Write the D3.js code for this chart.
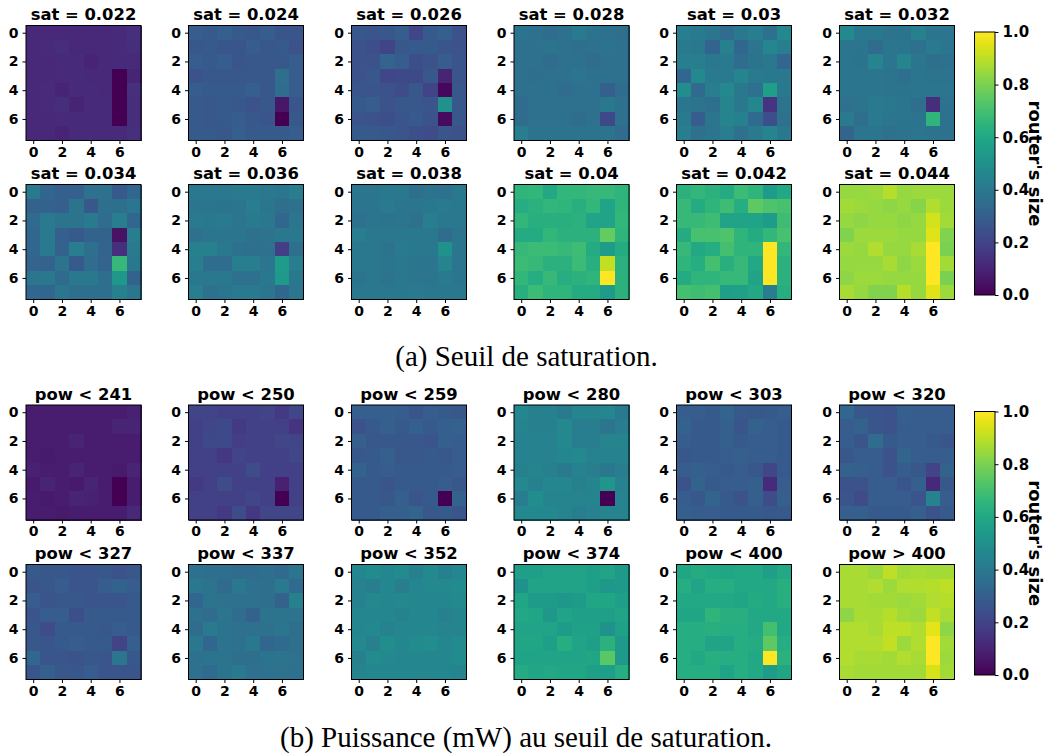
<!DOCTYPE html>
<html><head><meta charset="utf-8">
<script src="https://cdn.jsdelivr.net/npm/d3@7/dist/d3.min.js"></script>
<style>
html,body{margin:0;padding:0;background:#fff}
svg{display:block}
.tick text,.ptitle,.cblabel{font-family:"DejaVu Sans";font-weight:700;fill:#000}
.caption{font-family:"Liberation Serif";fill:#000}
</style></head><body>
<svg id="chart" width="1047" height="756"></svg>
<script>
const sat022=[[.11,.11,.11,.11,.11,.11,.12,.14],[.11,.12,.13,.11,.11,.11,.12,.13],[.11,.11,.12,.12,.10,.11,.12,.12],[.11,.11,.12,.12,.11,.11,0,.10],[.11,.12,.10,.12,.12,.11,0,.14],[.11,.12,.13,.10,.12,.12,0,.13],[.11,.11,.12,.12,.12,.12,0,.13],[.11,.11,.10,.12,.12,.12,.12,.14]];
const sat024=[[.29,.28,.30,.28,.27,.29,.26,.26],[.27,.28,.26,.26,.29,.27,.28,.25],[.29,.28,.29,.26,.27,.27,.27,.29],[.25,.27,.27,.27,.27,.27,.36,.29],[.29,.28,.28,.28,.30,.27,.35,.29],[.28,.27,.28,.27,.25,.27,.06,.26],[.28,.27,.28,.29,.27,.26,0,.27],[.28,.28,.27,.30,.28,.28,.28,.29]];
const sat026=[[.27,.26,.27,.29,.21,.28,.30,.25],[.25,.24,.20,.27,.28,.28,.26,.25],[.25,.25,.32,.29,.24,.25,.29,.26],[.25,.27,.21,.22,.22,.27,.10,.26],[.26,.26,.25,.23,.27,.20,.02,.27],[.28,.29,.25,.27,.27,.26,.50,.27],[.26,.25,.24,.26,.28,.25,.03,.27],[.28,.28,.27,.26,.24,.23,.26,.25]];
const sat028=[[.38,.37,.35,.37,.41,.38,.37,.36],[.37,.37,.38,.37,.36,.37,.38,.37],[.37,.37,.35,.37,.37,.35,.37,.37],[.37,.36,.37,.37,.39,.37,.37,.37],[.37,.37,.37,.35,.37,.37,.30,.35],[.35,.37,.37,.37,.37,.37,.40,.37],[.35,.37,.37,.37,.35,.37,.22,.37],[.42,.38,.38,.38,.38,.38,.38,.35]];
const sat030=[[.42,.41,.39,.35,.40,.42,.37,.47],[.41,.40,.32,.43,.33,.39,.46,.42],[.42,.42,.40,.41,.35,.38,.40,.33],[.33,.47,.41,.41,.45,.41,.40,.40],[.49,.34,.42,.47,.40,.37,.56,.40],[.39,.38,.36,.45,.40,.46,.15,.38],[.41,.29,.39,.45,.43,.34,.24,.37],[.42,.37,.39,.42,.37,.41,.45,.40]];
const sat032=[[.47,.40,.40,.38,.38,.43,.39,.39],[.39,.39,.35,.39,.39,.37,.41,.39],[.39,.38,.45,.39,.45,.39,.36,.37],[.39,.39,.39,.38,.36,.39,.38,.38],[.39,.39,.39,.38,.38,.39,.39,.39],[.37,.38,.41,.40,.39,.36,.13,.37],[.41,.36,.41,.39,.39,.38,.65,.37],[.32,.39,.39,.37,.38,.39,.38,.37]];
const sat034=[[.41,.33,.30,.30,.37,.37,.28,.33],[.31,.31,.30,.38,.27,.36,.36,.39],[.34,.41,.38,.38,.41,.35,.42,.33],[.33,.41,.30,.28,.31,.31,.05,.42],[.33,.41,.31,.42,.36,.32,.14,.41],[.32,.31,.38,.28,.35,.32,.67,.40],[.39,.40,.34,.40,.40,.36,.53,.31],[.33,.33,.39,.36,.36,.36,.43,.39]];
const sat036=[[.40,.40,.40,.41,.41,.40,.39,.42],[.39,.39,.38,.39,.42,.39,.36,.37],[.41,.40,.41,.39,.41,.40,.33,.39],[.37,.39,.39,.39,.37,.38,.40,.40],[.43,.43,.40,.37,.36,.37,.18,.36],[.42,.35,.35,.42,.42,.39,.55,.42],[.40,.40,.40,.37,.37,.40,.54,.40],[.42,.37,.39,.41,.41,.39,.33,.39]];
const sat038=[[.39,.39,.40,.40,.36,.38,.37,.40],[.39,.39,.41,.39,.39,.40,.41,.40],[.37,.39,.38,.39,.37,.42,.40,.40],[.42,.40,.40,.40,.40,.40,.35,.39],[.40,.40,.38,.41,.40,.40,.50,.39],[.40,.40,.39,.40,.39,.39,.45,.39],[.38,.40,.38,.40,.39,.39,.41,.39],[.40,.40,.40,.40,.41,.40,.40,.40]];
const sat040=[[.65,.66,.60,.66,.66,.67,.67,.65],[.62,.64,.66,.65,.63,.66,.58,.65],[.66,.63,.63,.63,.64,.58,.58,.66],[.61,.61,.66,.64,.64,.64,.76,.65],[.67,.68,.68,.67,.69,.61,.55,.61],[.68,.67,.64,.64,.68,.63,.91,.64],[.66,.62,.67,.62,.64,.65,1,.64],[.63,.68,.65,.65,.61,.61,.55,.64]];
const sat042=[[.64,.66,.64,.61,.68,.65,.55,.60],[.67,.61,.65,.69,.62,.75,.72,.71],[.67,.67,.69,.58,.58,.58,.55,.69],[.61,.71,.71,.72,.65,.61,.66,.71],[.67,.60,.62,.70,.65,.65,1,.66],[.65,.62,.70,.63,.67,.60,1,.64],[.61,.65,.65,.67,.67,.58,1,.64],[.70,.69,.70,.56,.57,.60,.42,.62]];
const sat044=[[.84,.84,.85,.89,.84,.85,.85,.85],[.86,.85,.84,.83,.84,.82,.88,.85],[.84,.83,.84,.84,.83,.84,.93,.86],[.81,.85,.85,.85,.84,.84,.95,.81],[.85,.84,.88,.84,.84,.87,1,.80],[.84,.84,.84,.87,.83,.85,1,.86],[.83,.85,.85,.84,.84,.84,1,.80],[.87,.84,.81,.81,.89,.84,.95,.85]];
const pow241=[[.08,.08,.08,.08,.08,.08,.08,.09],[.08,.08,.08,.08,.08,.08,.10,.10],[.08,.08,.08,.10,.08,.08,.08,.08],[.08,.07,.08,.08,.08,.08,.08,.08],[.09,.08,.08,.10,.08,.08,.07,.10],[.07,.10,.08,.07,.10,.08,0,.08],[.08,.07,.08,.10,.09,.08,0,.08],[.08,.08,.07,.08,.08,.08,.08,.11]];
const pow250=[[.20,.20,.19,.19,.19,.20,.17,.21],[.19,.21,.22,.17,.19,.19,.19,.15],[.19,.22,.22,.18,.19,.19,.21,.20],[.19,.19,.16,.20,.19,.19,.19,.21],[.19,.19,.19,.19,.23,.19,.19,.19],[.17,.19,.23,.19,.19,.19,.09,.19],[.19,.19,.19,.19,.21,.19,0,.19],[.19,.19,.17,.23,.16,.21,.21,.21]];
const pow259=[[.30,.30,.30,.29,.26,.29,.28,.27],[.25,.28,.30,.28,.30,.28,.30,.31],[.30,.27,.27,.27,.27,.26,.30,.29],[.27,.28,.30,.27,.27,.28,.27,.29],[.31,.28,.29,.28,.28,.28,.28,.29],[.28,.28,.26,.28,.28,.28,.29,.27],[.28,.28,.27,.30,.26,.28,0,.31],[.28,.28,.30,.30,.32,.27,.28,.26]];
const pow280=[[.46,.43,.43,.41,.45,.45,.46,.41],[.45,.43,.43,.47,.42,.42,.39,.42],[.44,.44,.44,.47,.42,.42,.45,.45],[.44,.44,.44,.46,.47,.44,.44,.44],[.43,.45,.43,.41,.44,.42,.40,.42],[.47,.43,.46,.46,.43,.45,.52,.44],[.42,.49,.45,.45,.45,.45,0,.45],[.47,.47,.47,.45,.42,.44,.45,.45]];
const pow303=[[.29,.29,.28,.32,.28,.27,.28,.29],[.31,.28,.28,.30,.26,.31,.29,.28],[.29,.28,.28,.30,.28,.29,.29,.28],[.27,.28,.28,.29,.30,.29,.29,.28],[.29,.30,.29,.28,.29,.27,.21,.28],[.25,.31,.28,.29,.29,.30,.12,.29],[.29,.27,.32,.28,.25,.30,.23,.30],[.30,.29,.29,.28,.28,.28,.27,.28]];
const pow320=[[.33,.27,.26,.25,.30,.29,.29,.29],[.29,.31,.26,.25,.29,.29,.29,.29],[.29,.26,.35,.28,.29,.29,.28,.26],[.27,.29,.29,.25,.32,.29,.29,.29],[.31,.30,.29,.25,.29,.27,.20,.31],[.25,.25,.29,.29,.26,.30,.11,.27],[.26,.23,.29,.29,.29,.26,.44,.29],[.30,.30,.28,.28,.28,.30,.25,.28]];
const pow327=[[.28,.27,.27,.26,.26,.27,.25,.27],[.26,.27,.29,.26,.26,.29,.31,.29],[.29,.26,.27,.27,.26,.26,.26,.28],[.26,.29,.29,.24,.28,.28,.28,.28],[.27,.23,.28,.28,.28,.27,.29,.28],[.27,.26,.28,.29,.28,.28,.20,.30],[.33,.26,.26,.25,.27,.26,.39,.27],[.26,.30,.27,.27,.29,.26,.26,.26]];
const pow337=[[.37,.36,.36,.35,.35,.36,.34,.39],[.40,.38,.34,.40,.37,.36,.41,.34],[.33,.38,.37,.37,.37,.36,.31,.43],[.37,.35,.39,.35,.31,.38,.38,.38],[.35,.41,.38,.37,.37,.37,.39,.36],[.40,.33,.38,.37,.40,.33,.34,.36],[.37,.38,.38,.36,.36,.38,.38,.37],[.37,.34,.38,.41,.37,.37,.37,.37]];
const pow352=[[.46,.48,.46,.48,.43,.47,.43,.46],[.44,.42,.46,.42,.46,.47,.47,.48],[.44,.47,.46,.47,.46,.46,.46,.47],[.46,.46,.46,.44,.46,.46,.43,.45],[.46,.47,.44,.46,.46,.46,.45,.45],[.47,.43,.49,.46,.48,.49,.46,.48],[.43,.48,.47,.46,.46,.46,.46,.48],[.45,.46,.46,.46,.46,.46,.46,.45]];
const pow374=[[.56,.56,.58,.58,.58,.56,.58,.54],[.51,.58,.58,.58,.58,.56,.53,.54],[.59,.55,.55,.53,.55,.59,.59,.56],[.60,.59,.53,.58,.56,.56,.56,.58],[.58,.58,.58,.55,.57,.57,.50,.57],[.59,.59,.56,.62,.58,.56,.64,.54],[.58,.58,.58,.58,.58,.59,.74,.54],[.61,.59,.60,.59,.59,.56,.56,.62]];
const pow400=[[.59,.61,.60,.59,.60,.60,.56,.60],[.62,.58,.62,.62,.60,.60,.60,.63],[.60,.60,.60,.60,.59,.61,.60,.63],[.59,.59,.65,.63,.63,.60,.60,.60],[.62,.62,.63,.62,.62,.60,.70,.60],[.62,.62,.58,.58,.62,.61,.75,.62],[.62,.60,.63,.62,.62,.60,1,.64],[.62,.62,.62,.58,.62,.60,.55,.59]];
const powMax=[[.87,.87,.85,.90,.86,.87,.86,.86],[.87,.87,.88,.85,.88,.88,.89,.90],[.87,.87,.86,.86,.85,.86,.88,.89],[.83,.87,.87,.89,.86,.85,.91,.87],[.88,.88,.87,.90,.90,.88,.96,.83],[.88,.88,.88,.91,.85,.88,1,.86],[.88,.87,.87,.86,.88,.87,1,.85],[.87,.86,.86,.86,.86,.86,.94,.86]];

const satTitles=["sat = 0.022","sat = 0.024","sat = 0.026","sat = 0.028","sat = 0.03","sat = 0.032","sat = 0.034","sat = 0.036","sat = 0.038","sat = 0.04","sat = 0.042","sat = 0.044"];
const powTitles=["pow < 241","pow < 250","pow < 259","pow < 280","pow < 303","pow < 320","pow < 327","pow < 337","pow < 352","pow < 374","pow < 400","pow > 400"];
const satGrids=[sat022,sat024,sat026,sat028,sat030,sat032,sat034,sat036,sat038,sat040,sat042,sat044];
const powGrids=[pow241,pow250,pow259,pow280,pow303,pow320,pow327,pow337,pow352,pow374,pow400,powMax];
const axisTicks=[0,2,4,6];
const barTicks=[0,0.2,0.4,0.6,0.8,1];
const captions=["(a) Seuil de saturation.","(b) Puissance (mW) au seuil de saturation."];
const barLabel="router's size";

const svg=d3.select("#chart");
const color=d3.scaleSequential(d3.interpolateViridis).domain([0,1]);
const lefts=[26,188.5,351.5,514,676.5,839.5];
const panelSize=115;

function styleAxis(g,size){
  g.select(".domain").remove();
  g.selectAll(".tick line").attr("stroke","#000").attr("stroke-width",1);
  g.selectAll(".tick text").style("font-size",size+"px");
}

function panel(x0,y0,grid,title){
  const x=d3.scaleLinear().domain([-0.5,7.5]).range([x0,x0+panelSize]);
  const y=d3.scaleLinear().domain([-0.5,7.5]).range([y0,y0+panelSize]);
  const g=svg.append("g").attr("shape-rendering","crispEdges");
  grid.forEach((row,r)=>{
    g.selectAll(null).data(row).join("rect")
      .attr("x",(v,c)=>x(c-0.5)).attr("y",y(r-0.5))
      .attr("width",x(0.5)-x(-0.5)+0.5).attr("height",y(0.5)-y(-0.5)+0.5)
      .attr("fill",v=>color(v));
  });
  svg.append("rect").attr("x",x0).attr("y",y0).attr("width",panelSize).attr("height",panelSize)
    .attr("fill","none").attr("stroke","#000").attr("stroke-width",1);
  svg.append("g").attr("transform",`translate(${x0},0)`)
    .call(d3.axisLeft(y).tickValues(axisTicks).tickSize(3.5).tickPadding(4).tickFormat(d3.format("d")))
    .call(a=>styleAxis(a,14));
  svg.append("g").attr("transform",`translate(0,${y0+panelSize})`)
    .call(d3.axisBottom(x).tickValues(axisTicks).tickSize(3.5).tickPadding(3).tickFormat(d3.format("d")))
    .call(a=>styleAxis(a,14));
  svg.append("text").attr("class","ptitle").attr("x",x0+panelSize/2).attr("y",y0-5.5)
    .attr("text-anchor","middle").style("font-size","16.4px").text(title);
}

const defs=svg.append("defs");
const grad=defs.append("linearGradient").attr("id","viridisBar")
  .attr("x1",0).attr("y1",1).attr("x2",0).attr("y2",0);
d3.range(0,1.0001,0.02).forEach(t=>grad.append("stop").attr("offset",t).attr("stop-color",color(t)));

function colorbar(top,bottom){
  const x0=974.5,w=20.5;
  const y=d3.scaleLinear().domain([0,1]).range([bottom,top]);
  svg.append("rect").attr("x",x0).attr("y",top).attr("width",w).attr("height",bottom-top)
    .attr("fill","url(#viridisBar)").attr("stroke","#000").attr("stroke-width",1);
  svg.append("g").attr("transform",`translate(${x0+w},0)`)
    .call(d3.axisRight(y).tickValues(barTicks).tickSize(3.5).tickPadding(4).tickFormat(d3.format(".1f")))
    .call(a=>styleAxis(a,15));
  const cy=(top+bottom)/2;
  svg.append("text").attr("class","cblabel")
    .attr("transform",`translate(1029,${cy}) rotate(90)`)
    .attr("text-anchor","middle").style("font-size","18px").text(barLabel);
}

function block(rowTops,grids,titles,barTop,barBottom){
  grids.forEach((g,i)=>panel(lefts[i%6],rowTops[Math.floor(i/6)],g,titles[i]));
  colorbar(barTop,barBottom);
}
block([25.5,184.5],satGrids,satTitles,32,295);
block([405,564.5],powGrids,powTitles,411.5,675);

svg.append("text").attr("class","caption").attr("x",526.5).attr("y",366).attr("text-anchor","middle")
  .style("font-size","29px").text(captions[0]);
svg.append("text").attr("class","caption").attr("x",526).attr("y",747).attr("text-anchor","middle")
  .style("font-size","29px").text(captions[1]);
</script>
</body></html>
